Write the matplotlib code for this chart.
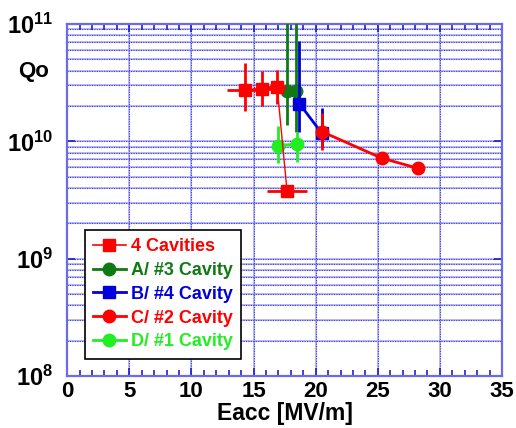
import numpy as np
import matplotlib
matplotlib.use("Agg")
import matplotlib.pyplot as plt
from matplotlib.ticker import MultipleLocator, LogLocator
from matplotlib.lines import Line2D

plt.rcParams["font.family"] = ["Liberation Sans", "DejaVu Sans"]
plt.rcParams["font.weight"] = "bold"

# 4 Cavities
x4 = [14.3, 15.7, 16.9, 17.7]
y4 = [2.74e10, 2.78e10, 2.93e10, 3.74e9]
x4_err = [1.4, 0.8, 0.7, 1.6]
y4_lo = [0.92e10, 0.78e10, 0.83e10, 0.1e9]
y4_hi = [1.9e10, 1.2e10, 1.1e10, 0.1e9]

# A/ #3 Cavity
xa = [17.7, 18.4]
ya = [2.66e10, 2.66e10]
ya_lo = [1.28e10, 1.45e10]
ya_hi = [2.0e11, 2.0e11]

# B/ #4 Cavity
xb = [18.7, 20.5]
yb = [2.09e10, 1.17e10]
yb_lo = [0.88e10, 0.27e10]
yb_hi = [5.0e10, 0.77e10]

# C/ #2 Cavity
xc = [20.5, 25.3, 28.2]
yc = [1.21e10, 7.2e9, 5.9e9]
yc_lo = [0.36e10, 0.8e9, 0.1e9]
yc_hi = [0.53e10, 0.8e9, 0.1e9]

# D/ #1 Cavity
xd = [17.0, 18.5]
yd = [9.2e9, 9.5e9]
yd_lo = [2.7e9, 2.8e9]
yd_hi = [4.2e9, 2.4e9]

red = "#ff0000"
dgreen = "#0f7a14"
blue = "#0000dd"
lgreen = "#22ee22"

fig = plt.figure(figsize=(5.16, 4.28), dpi=100)
ax = fig.add_axes([0.130, 0.1215, 0.843, 0.8225])

series = [
    ("A/ #3 Cavity", xa, ya, None, [ya_lo, ya_hi], dgreen, "o", 9, 2, 3),
    ("D/ #1 Cavity", xd, yd, None, [yd_lo, yd_hi], lgreen, "o", 9, 2, 3),
    ("B/ #4 Cavity", xb, yb, None, [yb_lo, yb_hi], blue, "s", 8, 2, 4),
    ("C/ #2 Cavity", xc, yc, None, [yc_lo, yc_hi], red, "o", 9, 2, 5),
    ("4 Cavities", x4, y4, x4_err, [y4_lo, y4_hi], red, "s", 9, 1, 6),
]
for name, xs, ys, xe, ye, c, m, ms, lw, z in series:
    ax.errorbar(xs, ys, xerr=xe, yerr=ye, color=c, marker=m, ms=ms, lw=lw,
                elinewidth=2, capsize=0, zorder=z)

ax.set_yscale("log")
ax.set_xlim(0, 35)
ax.set_ylim(1e8, 1e11)
ax.xaxis.set_major_locator(MultipleLocator(5))
ax.xaxis.set_minor_locator(MultipleLocator(1))
ax.yaxis.set_major_locator(LogLocator(base=10, numticks=10))
ax.yaxis.set_minor_locator(LogLocator(base=10, subs=np.arange(2, 10), numticks=20))

# grid: light solid line under a darker dotted one
ylocs = [v for v in list(ax.yaxis.get_majorticklocs()) + list(ax.yaxis.get_minorticklocs())
         if 1e8 < v < 1e11]
xlocs = [v for v in ax.xaxis.get_majorticklocs() if 0 < v < 35]
for v in ylocs:
    ax.axhline(v, color="#b4b4f4", lw=1.3, zorder=0.5)
    ax.axhline(v, color="#3c3cd4", lw=0.8, ls=(0, (1, 1.2)), zorder=0.6)
for v in xlocs:
    ax.axvline(v, color="#b4b4f4", lw=1.3, zorder=0.5)
    ax.axvline(v, color="#3c3cd4", lw=0.8, ls=(0, (1, 1.2)), zorder=0.6)

for s in ax.spines.values():
    s.set_color("#6a6aea")
    s.set_linewidth(1.6)
ax.tick_params(which="both", direction="in", top=True, right=True, colors="#2020c8",
               labelcolor="black", labelsize=16)
ax.tick_params(which="major", length=6, width=1.2)
ax.tick_params(which="minor", length=4, width=1.2)
ax.tick_params(axis="y", which="minor", length=0)
ax.tick_params(axis="y", labelsize=17, pad=10)
for lbl in ax.get_xticklabels() + ax.get_yticklabels():
    lbl.set_fontweight("bold")

ax.set_xlabel("Eacc [MV/m]", fontsize=16.5, fontweight="bold", labelpad=0)
fig.text(0.066, 0.834, "Qo", fontsize=16, fontweight="bold", ha="center", va="center")

order = [4, 0, 2, 3, 1]
handles = [Line2D([], [], color=series[i][5], marker=series[i][6], ms=series[i][7],
                  lw=series[i][8] if i != 4 else 1.2) for i in order]
labels = [series[i][0] for i in order]
leg = ax.legend(handles, labels, loc="upper left", bbox_to_anchor=(0.041, 0.415),
                borderaxespad=0, fancybox=False, edgecolor="black", framealpha=1,
                prop={"weight": "bold", "size": 13}, handlelength=1.8,
                handletextpad=0.3, labelspacing=0.38, borderpad=0.45)
leg.get_frame().set_linewidth(1.2)
for txt, i in zip(leg.get_texts(), order):
    txt.set_color(series[i][5])

fig.savefig("out.png", dpi=100)
